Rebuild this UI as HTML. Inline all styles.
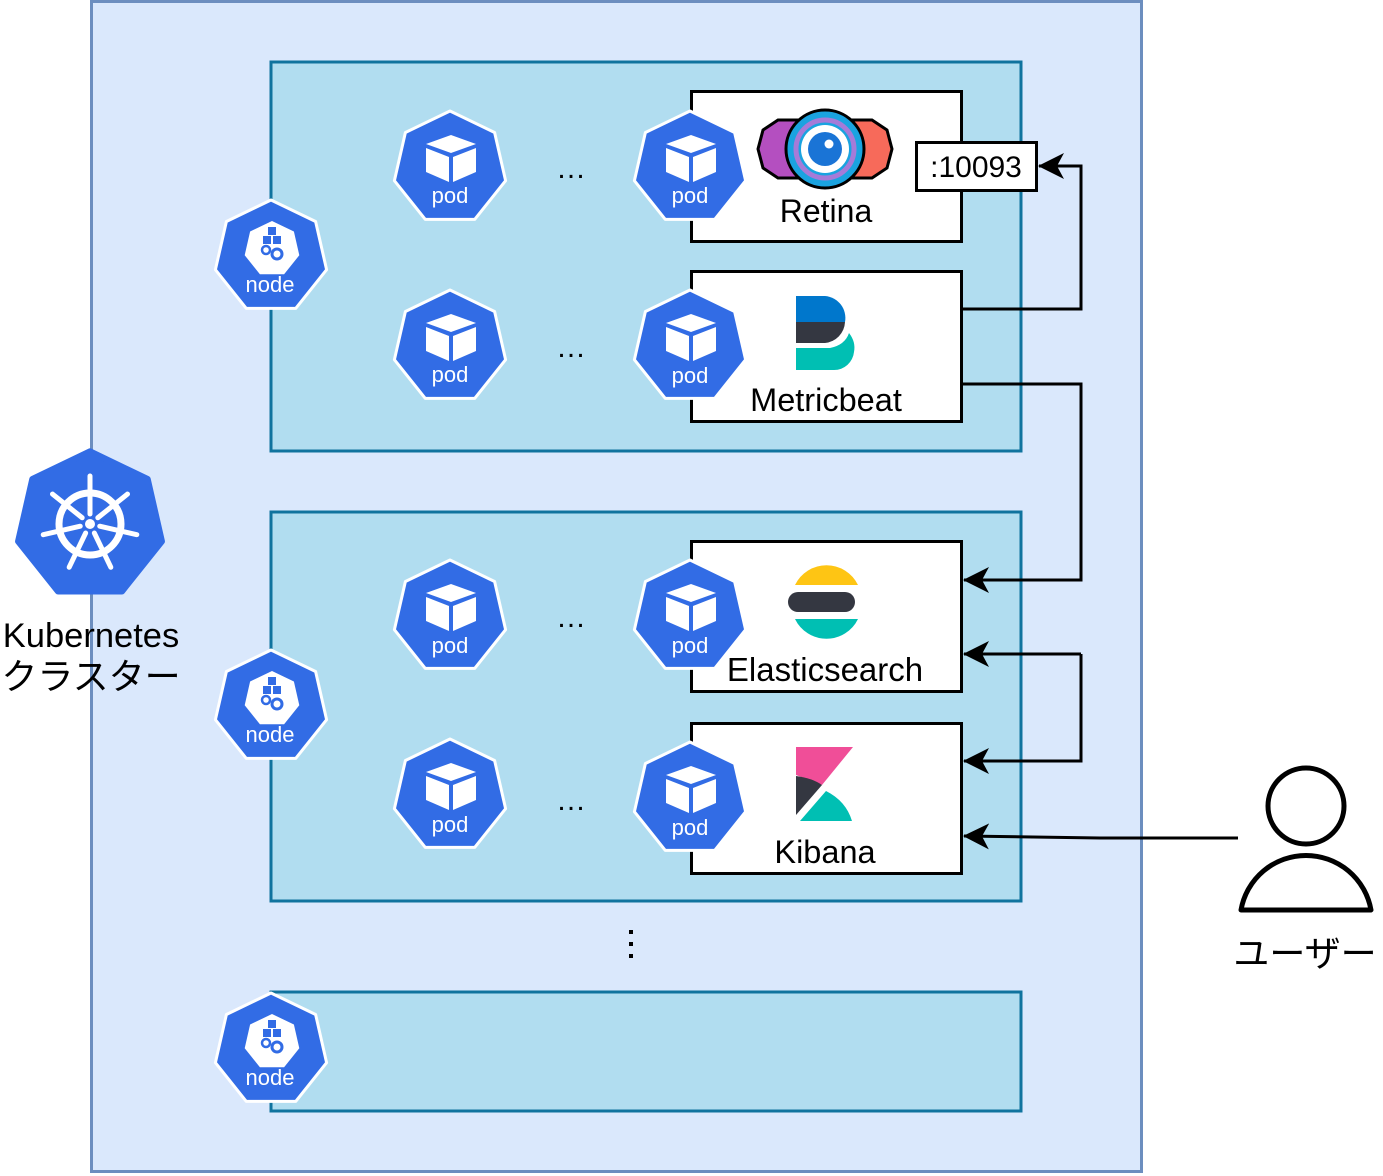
<!DOCTYPE html>
<html><head><meta charset="utf-8">
<style>
html,body{margin:0;padding:0;background:#fff;}
svg{display:block;}
text{font-family:"Liberation Sans","Noto Sans CJK JP",sans-serif;}
</style></head>
<body>
<svg width="1383" height="1176" viewBox="0 0 1383 1176" xmlns="http://www.w3.org/2000/svg">
<defs>
  <polygon id="hept" points="0,-57 44.6,-35.5 55.6,12.7 24.7,51.4 -24.7,51.4 -55.6,12.7 -44.6,-35.5"/>
  <g id="pod">
    <use href="#hept" fill="#326ce5" stroke="#fff" stroke-width="3" stroke-linejoin="round"/>
    <polygon points="1,-33 26,-24 1,-15 -24,-24" fill="#fff"/>
    <polygon points="-24,-20 -1,-11 -1,14 -24,4" fill="#fff"/>
    <polygon points="3,-11 26,-20 26,4 3,14" fill="#fff"/>
  </g>
  <g id="node">
    <use href="#hept" fill="#326ce5" stroke="#fff" stroke-width="3" stroke-linejoin="round"/>
    <polygon points="0,-28 21.9,-17.5 27.3,6.2 12.1,25.2 -12.1,25.2 -27.3,6.2 -21.9,-17.5" transform="translate(1,-8)" fill="#fff"/>
    <rect x="-3" y="-30" width="8" height="8" fill="#326ce5"/>
    <rect x="-8" y="-21" width="8" height="8" fill="#326ce5"/>
    <rect x="2" y="-21" width="8" height="8" fill="#326ce5"/>
    <circle cx="-5" cy="-7" r="4" fill="none" stroke="#326ce5" stroke-width="2.5"/>
    <circle cx="6" cy="-3" r="5" fill="none" stroke="#326ce5" stroke-width="3"/>
  </g>
  <marker id="arr" viewBox="0 0 26 26" refX="25" refY="13" markerWidth="26" markerHeight="26" markerUnits="userSpaceOnUse" orient="auto">
    <path d="M26,13 L0,0 L7,13 L0,26 Z" fill="#000"/>
  </marker>
</defs>

<rect x="91.5" y="1.5" width="1050" height="1170" fill="#dae8fc" stroke="#6c8ebf" stroke-width="3"/>
<rect x="271" y="62" width="750" height="389" fill="#b1ddf0" stroke="#10739e" stroke-width="3"/>
<rect x="271" y="512" width="750" height="389" fill="#b1ddf0" stroke="#10739e" stroke-width="3"/>
<rect x="271" y="992" width="750" height="119" fill="#b1ddf0" stroke="#10739e" stroke-width="3"/>

<rect x="691.5" y="91.5" width="270" height="150" fill="#fff" stroke="#000" stroke-width="3"/>
<rect x="691.5" y="271.5" width="270" height="150" fill="#fff" stroke="#000" stroke-width="3"/>
<rect x="691.5" y="541.5" width="270" height="150" fill="#fff" stroke="#000" stroke-width="3"/>
<rect x="691.5" y="723.5" width="270" height="150" fill="#fff" stroke="#000" stroke-width="3"/>

<rect x="916.5" y="142.5" width="120" height="48" fill="#fff" stroke="#000" stroke-width="3"/>
<text x="976" y="177" font-size="30" text-anchor="middle">:10093</text>

<g fill="none" stroke="#000" stroke-width="3">
  <polyline points="961,309 1081,309 1081,166 1039,166" marker-end="url(#arr)"/>
  <polyline points="961,384 1081,384 1081,580 964,580" marker-end="url(#arr)"/>
  <polyline points="1081,654 964,654" marker-end="url(#arr)"/>
  <polyline points="1081,654 1081,761 964,761" marker-end="url(#arr)"/>
  <polyline points="1238,838 1100,838 964,836" marker-end="url(#arr)"/>
</g>

<use href="#pod" x="450" y="168"/>
<use href="#pod" x="690" y="168"/>
<use href="#pod" x="450" y="347"/>
<use href="#pod" x="690" y="347"/>
<use href="#pod" x="450" y="617"/>
<use href="#pod" x="690" y="617"/>
<use href="#pod" x="450" y="796"/>
<use href="#pod" x="690" y="799"/>
<g fill="#fff" font-size="22" text-anchor="middle">
  <text x="450" y="203">pod</text><text x="690" y="203">pod</text>
  <text x="450" y="382">pod</text><text x="690" y="383">pod</text>
  <text x="450" y="653">pod</text><text x="690" y="653">pod</text>
  <text x="450" y="832">pod</text><text x="690" y="835">pod</text>
</g>
<use href="#node" x="271" y="257"/>
<use href="#node" x="271" y="707"/>
<use href="#node" x="271" y="1050"/>
<g fill="#fff" font-size="22" text-anchor="middle">
  <text x="270" y="292">node</text>
  <text x="270" y="742">node</text>
  <text x="270" y="1085">node</text>
</g>

<g font-size="30" text-anchor="middle">
  <text x="571" y="178">…</text>
  <text x="571" y="357">…</text>
  <text x="571" y="627">…</text>
  <text x="571" y="810">…</text>
</g>
<rect x="629" y="930" width="4" height="4"/>
<rect x="629" y="942" width="4" height="4"/>
<rect x="629" y="954" width="4" height="4"/>

<!-- Retina icon -->
<polygon points="763,130 778,120 800,120 800,178 778,178 763,168 758,149" fill="#b44fc0" stroke="#000" stroke-width="3"/>
<polygon points="887,130 872,120 850,120 850,178 872,178 887,168 892,149" fill="#f76a5a" stroke="#000" stroke-width="3"/>
<circle cx="825" cy="149" r="39" fill="#1aa3e0" stroke="#000" stroke-width="3"/>
<circle cx="825" cy="149" r="29" fill="none" stroke="#a57bd8" stroke-width="5"/>
<circle cx="825" cy="149" r="24" fill="#fff"/>
<circle cx="825" cy="149" r="17" fill="#1a74d6"/>
<circle cx="829" cy="144" r="4.5" fill="#fff"/>
<text x="826" y="222" font-size="32" text-anchor="middle">Retina</text>

<!-- Metricbeat icon -->
<path d="M796,296 H825 A22,22 0 0 1 845,322 H796 Z" fill="#0077cc"/>
<path d="M796,322 H845 A22,22 0 0 1 825,343 H796 Z" fill="#343741"/>
<path d="M796,348 H830 Q845,345 849,333 Q856,342 854,352 A20,20 0 0 1 834,370 H796 Z" fill="#00bfb3"/>
<text x="826" y="411" font-size="32.5" text-anchor="middle">Metricbeat</text>

<!-- Elasticsearch icon -->
<path d="M795,585 A35,35 0 0 1 858,585 Z" fill="#fec514"/>
<path d="M798,592 H845 A10,10 0 0 1 845,612 H798 A10,10 0 0 1 798,592 Z" fill="#343741"/>
<path d="M795,619 H858 A35,35 0 0 1 795,619 Z" fill="#00bfb3"/>
<text x="825" y="681" font-size="33" text-anchor="middle">Elasticsearch</text>

<!-- Kibana icon -->
<polygon points="796,747 853,747 822,785 796,775" fill="#f04e98"/>
<path d="M796,776 Q812,778 822,785 L796,815 Z" fill="#343741"/>
<path d="M800,821 L826,791 Q846,801 852,821 Z" fill="#00bfb3"/>
<text x="825" y="863" font-size="32.5" text-anchor="middle">Kibana</text>

<!-- Kubernetes logo -->
<polygon points="0,-57 44.6,-35.5 55.6,12.7 24.7,51.4 -24.7,51.4 -55.6,12.7 -44.6,-35.5" transform="translate(90,525) scale(1.29)" fill="#326ce5" stroke="#326ce5" stroke-width="5" stroke-linejoin="round"/>
<g transform="translate(90,524)" stroke="#fff" fill="none" stroke-linecap="round">
  <circle r="31" stroke-width="7"/>
  <g stroke-width="5">
    <line x1="0" y1="-10" x2="0" y2="-48"/>
    <line x1="0" y1="-10" x2="0" y2="-48" transform="rotate(51.4)"/>
    <line x1="0" y1="-10" x2="0" y2="-48" transform="rotate(102.8)"/>
    <line x1="0" y1="-10" x2="0" y2="-48" transform="rotate(154.3)"/>
    <line x1="0" y1="-10" x2="0" y2="-48" transform="rotate(205.7)"/>
    <line x1="0" y1="-10" x2="0" y2="-48" transform="rotate(257.1)"/>
    <line x1="0" y1="-10" x2="0" y2="-48" transform="rotate(308.6)"/>
  </g>
  <circle r="5" fill="#fff" stroke="none"/>
</g>
<text x="91" y="647" font-size="34.5" text-anchor="middle">Kubernetes</text>
<text x="91" y="689" font-size="36" text-anchor="middle">クラスター</text>

<!-- user -->
<circle cx="1306" cy="806" r="38" fill="none" stroke="#000" stroke-width="5"/>
<path d="M1241,910 A66,66 0 0 1 1371,910 Z" fill="none" stroke="#000" stroke-width="5" stroke-linejoin="round"/>
<text x="1305" y="966" font-size="36" text-anchor="middle">ユーザー</text>
</svg>
</body></html>
